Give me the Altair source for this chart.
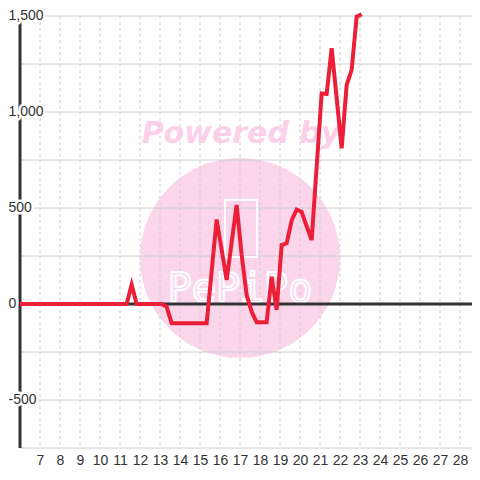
import altair as alt
import pandas as pd

# ---- data ----
x_vals = [6.0, 11.333, 11.583, 11.833, 13.083, 13.333, 13.583, 15.333, 15.833,
          16.333, 16.833, 17.083, 17.333, 17.583, 17.833, 18.333, 18.583, 18.833,
          19.083, 19.333, 19.583, 19.833, 20.083, 20.333, 20.583, 21.083, 21.333,
          21.583, 22.083, 22.333, 22.583, 22.833, 23.083]
y_vals = [0, 0, 100, 0, 0, -15, -100, -100, 440,
          125, 516, 255, 47, -40, -95, -95, 142, -31,
          307, 316, 435, 492, 480, 405, 333, 1097, 1094,
          1332, 811, 1141, 1219, 1497, 1509]

x_ticks = list(range(7, 29))
y_grid = [-750, -500, -250, 0, 250, 500, 750, 1000, 1250, 1500]
y_label_vals = [-500, 0, 500, 1000, 1500]
y_label_text = ["-500", "0", "500", "1,000", "1,500"]
x_min, x_max = 6, 28.6
y_min, y_max = -750, 1500

W, H = 452, 432
xs = alt.Scale(domain=[x_min, x_max], nice=False, zero=False)
ys = alt.Scale(domain=[y_min, y_max], nice=False, zero=False)

FONT = "Liberation Sans"
xaxis = alt.Axis(values=x_ticks, grid=False, domain=False, ticks=False, labelFontSize=14,
                 labelColor="#333333", labelFont=FONT, labelPadding=5, title=None,
                 labelFlush=False, labelOverlap=False)

series = pd.DataFrame({"x": x_vals, "y": y_vals})
one = pd.DataFrame({"a": [0]})
hgrid = pd.DataFrame({"v": y_grid})
vgrid = pd.DataFrame({"v": x_ticks})
labels = pd.DataFrame({"v": y_label_vals, "t": y_label_text})
axis_x = pd.DataFrame({"v": [x_min]})
axis_y = pd.DataFrame({"v": [0]})

# watermark
circle = alt.Chart(one).mark_circle(size=40000, color="#fbd6eb", opacity=1).encode(
    x=alt.value(220), y=alt.value(242))
logo_box = alt.Chart(one).mark_rect(fillOpacity=0, stroke="white", strokeWidth=2).encode(
    x=alt.value(205), x2=alt.value(237), y=alt.value(184), y2=alt.value(241))
logo_text = alt.Chart(one).mark_text(
    text="PePiPo", font="DejaVu Sans Mono", fontSize=40, fill="#fbd6eb",
    stroke="white", strokeWidth=2, align="center", baseline="middle").encode(
    x=alt.value(220), y=alt.value(274))
powered = alt.Chart(one).mark_text(
    text="Powered by", font="DejaVu Sans", fontSize=30, fontWeight="bold",
    fontStyle="italic", color="#fcd0e8", align="center", baseline="middle").encode(
    x=alt.value(221), y=alt.value(118))

# grid
hg = alt.Chart(hgrid).mark_rule(color="#cccccc", strokeWidth=1).encode(
    y=alt.Y("v:Q", scale=ys, axis=None))
vg = alt.Chart(vgrid).mark_rule(color="#cccccc", strokeWidth=1, strokeDash=[3, 3]).encode(
    x=alt.X("v:Q", scale=xs, axis=xaxis))

# axis lines
yaxis_line = alt.Chart(axis_x).mark_rule(color="#333333", strokeWidth=3).encode(
    x=alt.X("v:Q", scale=xs, axis=xaxis))
zero_line = alt.Chart(axis_y).mark_rule(color="#333333", strokeWidth=3).encode(
    y=alt.Y("v:Q", scale=ys, axis=None))

# series
line = alt.Chart(series).mark_line(color="#ec1f38", strokeWidth=4, clip=False).encode(
    x=alt.X("x:Q", scale=xs, axis=xaxis),
    y=alt.Y("y:Q", scale=ys, axis=None))

# y labels with white halo
halo = alt.Chart(labels).mark_text(
    align="left", baseline="middle", font=FONT, fontSize=14, fill="white",
    stroke="white", strokeWidth=5, strokeJoin="round").encode(
    x=alt.value(-11.5), y=alt.Y("v:Q", scale=ys, axis=None), text="t:N")
ylab = alt.Chart(labels).mark_text(
    align="left", baseline="middle", font=FONT, fontSize=14, fill="#333333").encode(
    x=alt.value(-11.5), y=alt.Y("v:Q", scale=ys, axis=None), text="t:N")

chart = alt.layer(
    circle, hg, vg, powered, logo_box, logo_text, yaxis_line, zero_line, line, halo, ylab
).properties(
    width=W, height=H,
    autosize=alt.AutoSizeParams(type="none"),
    padding={"left": 12, "top": 8, "right": 0, "bottom": 30},
    background="white",
).configure_view(strokeWidth=0)

chart.save("out.html", embed_options={"renderer": "svg", "actions": False})
